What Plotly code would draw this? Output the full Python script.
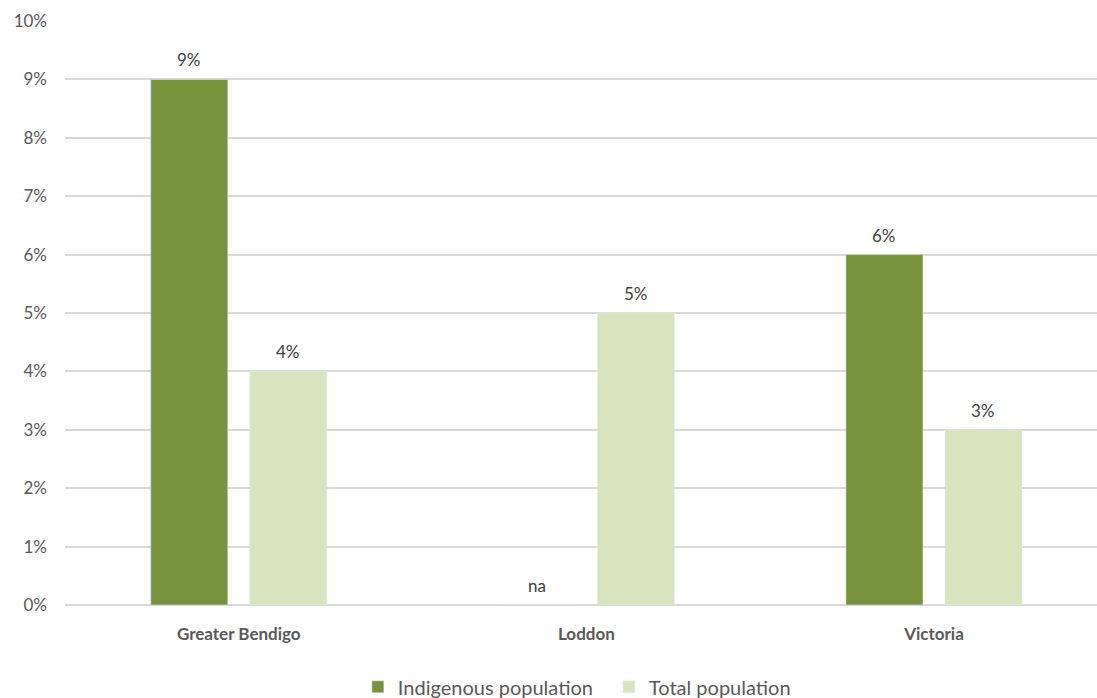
import plotly.graph_objects as go

regions = ["Greater Bendigo", "Loddon", "Victoria"]
indigenous = [0.09, 0.0, 0.06]
indigenous_labels = ["9%", "na", "6%"]
total = [0.04, 0.05, 0.03]
total_labels = ["4%", "5%", "3%"]

font_family = "Lato, 'Open Sans', sans-serif"
text_grey = "#595959"
label_grey = "#404040"
green = "#77933C"
light_green = "#D7E4BD"

fig = go.Figure()
fig.add_trace(go.Bar(name="Indigenous population", x=regions, y=indigenous,
                     marker_color=green))
fig.add_trace(go.Bar(name="Total population", x=regions, y=total,
                     marker_color=light_green))

# value labels above each bar, offset to the bar's slot within the group
bar_offset = 49.5
for values, labels, shift in [(indigenous, indigenous_labels, -bar_offset),
                              (total, total_labels, bar_offset)]:
    for region, v, lab in zip(regions, values, labels):
        fig.add_annotation(x=region, y=v, text=lab, showarrow=False,
                           xshift=shift, yshift=7, yanchor="bottom",
                           font=dict(size=17, color=label_grey, family=font_family))

fig.update_layout(
    width=1097, height=698,
    margin=dict(l=65, r=0, t=21, b=93, autoexpand=False),
    paper_bgcolor="white", plot_bgcolor="white",
    barmode="group", bargap=0.43, bargroupgap=0.222,
    font=dict(family=font_family, color=text_grey),
    showlegend=True,
    legend=dict(orientation="h", x=0.527, xanchor="center",
                yref="container", y=0.016, yanchor="middle",
                entrywidth=206, entrywidthmode="pixels",
                font=dict(size=20, color=text_grey), traceorder="normal"),
)
fig.update_xaxes(
    range=[-0.5, 2.469], showgrid=False, showline=False, zeroline=False,
    ticks="", tickfont=dict(size=17, color=text_grey, family=font_family, weight="bold"),
    ticklabelstandoff=17,
)
fig.update_yaxes(
    range=[0, 0.10], dtick=0.01, tickformat=".0%",
    showgrid=True, gridcolor="#d9d9d9", gridwidth=1.5,
    zeroline=True, zerolinecolor="#d9d9d9", zerolinewidth=1.5,
    showline=False, ticks="", ticklabelstandoff=17,
    tickfont=dict(size=17, color=text_grey),
)

fig.write_html("out.html")
